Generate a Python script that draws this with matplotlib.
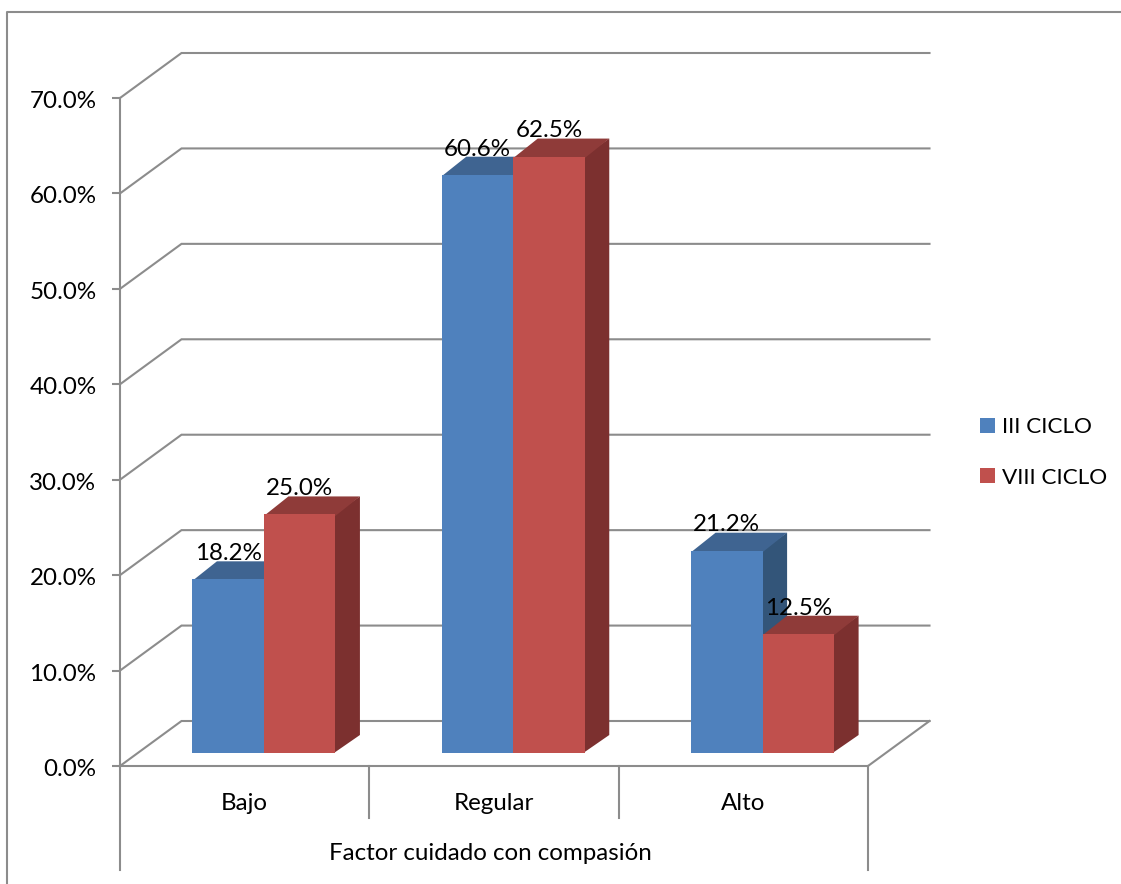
"""Factor cuidado con compasión: pseudo-3D clustered columns by cycle."""
import matplotlib
matplotlib.use('Agg')
import matplotlib.pyplot as plt
from matplotlib.lines import Line2D
from matplotlib.patches import Patch
from matplotlib.transforms import ScaledTranslation

plt.rcParams['font.family'] = ['Lato', 'DejaVu Sans']

categories = ['Bajo', 'Regular', 'Alto']
series_names = ['III CICLO', 'VIII CICLO']
iii_ciclo = [18.2, 60.6, 21.2]
viii_ciclo = [25.0, 62.5, 12.5]
y_ticks = [0, 10, 20, 30, 40, 50, 60, 70]
x_title = 'Factor cuidado con compasión'

W, H = 1121, 884
AX_L, AX_R, AX_T, AX_B = 120, 868, 98, 766
GRAY = '#8c8c8c'
FS = 17.4

FRONT = ['#4f81bd', '#c0504d']
TOP = ['#3f6491', '#8f3b39']
SIDE = ['#335579', '#7c302f']


def main():
    fig = plt.figure(figsize=(W / 100, H / 100), dpi=100, facecolor='white')
    ax = fig.add_axes([AX_L / W, 1 - AX_B / H, (AX_R - AX_L) / W, (AX_B - AX_T) / H])
    ax.set_xlim(0, len(categories))
    ax.set_ylim(0, 70)
    ax.patch.set_visible(False)

    # pixel sizes expressed in data units
    px_x = len(categories) / (AX_R - AX_L)
    px_y = 70 / (AX_B - AX_T)

    # outer chart frame, cut by the page on the right and bottom
    fig.add_artist(Line2D([6.5 / W, 6.5 / W, 1], [0, 1 - 12 / H, 1 - 12 / H],
                          color=GRAY, lw=1.5))

    # back wall gridlines and the depth diagonals
    wall_dx, wall_dy = 61.5 * px_x, 45 * px_y
    for v in y_ticks:
        ax.plot([0, wall_dx, 3 + wall_dx], [v, v + wall_dy, v + wall_dy],
                color=GRAY, lw=1.5, clip_on=False, zorder=1,
                solid_joinstyle='miter')
    ax.plot([3, 3 + wall_dx], [0, wall_dy], color=GRAY, lw=1.5,
            clip_on=False, zorder=1)

    # columns: front face via bar, depth faces as polygons tucked under it
    bar_w = 71.5 * px_x
    bar_start = 0.2905
    base = 13 * px_y
    dx, dy = 24.5 * px_x, 18 * px_y
    ox, oy = 1.5 * px_x, 1.5 * px_y
    z = 3
    for i in range(len(categories)):
        for s, vals in enumerate([iii_ciclo, viii_ciclo]):
            v = vals[i]
            left = i + bar_start + s * bar_w
            right = left + bar_w
            top = base + v
            ax.fill([right - ox, right + dx, right + dx, right - ox],
                    [base, base + dy, top + dy, top],
                    color=SIDE[s], lw=0, clip_on=False, zorder=z)
            ax.fill([left, left + dx, right + dx, right],
                    [top - oy, top + dy, top + dy, top - oy],
                    color=TOP[s], lw=0, clip_on=False, zorder=z)
            ax.bar(left, v, width=bar_w, bottom=base, align='edge',
                   color=FRONT[s], lw=0, clip_on=False, zorder=z)
            ax.annotate(f'{v:.1f}%', (left + bar_w / 2, top), xytext=(0, 18.5),
                        textcoords='offset points', ha='center', va='center',
                        fontsize=FS, color='black', zorder=10,
                        annotation_clip=False)
            z += 1

    # axes
    for side in ['top', 'right']:
        ax.spines[side].set_visible(False)
    for side in ['left', 'bottom']:
        ax.spines[side].set_color(GRAY)
        ax.spines[side].set_linewidth(1.5)
    ax.set_yticks(y_ticks)
    ax.set_yticklabels([f'{v:.1f}%' for v in y_ticks], fontsize=FS)
    ax.tick_params(axis='y', length=5.5, width=1.5, color=GRAY, pad=11.5)
    nudge = ScaledTranslation(0, -1.5 / 100, fig.dpi_scale_trans)
    for label in ax.get_yticklabels():
        label.set_transform(label.get_transform() + nudge)
    ax.set_xticks([])

    # two-level category axis underneath
    for k in range(len(categories) + 1):
        low = 104 if k in (0, len(categories)) else 52
        ax.plot([k, k], [0, -low * px_y], color=GRAY, lw=1.5, clip_on=False)
    for i, name in enumerate(categories):
        ax.text(i + 0.5, -37 * px_y, name, ha='center', va='center', fontsize=FS)
    ax.text(1.485, -87.5 * px_y, x_title, ha='center', va='center', fontsize=FS)

    # legend
    handles = [Patch(color=c, lw=0) for c in FRONT]
    fig.legend(handles, series_names, loc='center left', frameon=False,
               bbox_to_anchor=(980 / W, 1 - 452.5 / H), fontsize=16.2,
               handlelength=0.66, handleheight=0.66, handletextpad=0.32,
               labelspacing=1.34, borderpad=0, borderaxespad=0)

    fig.savefig('out.png', dpi=100)


if __name__ == '__main__':
    main()
